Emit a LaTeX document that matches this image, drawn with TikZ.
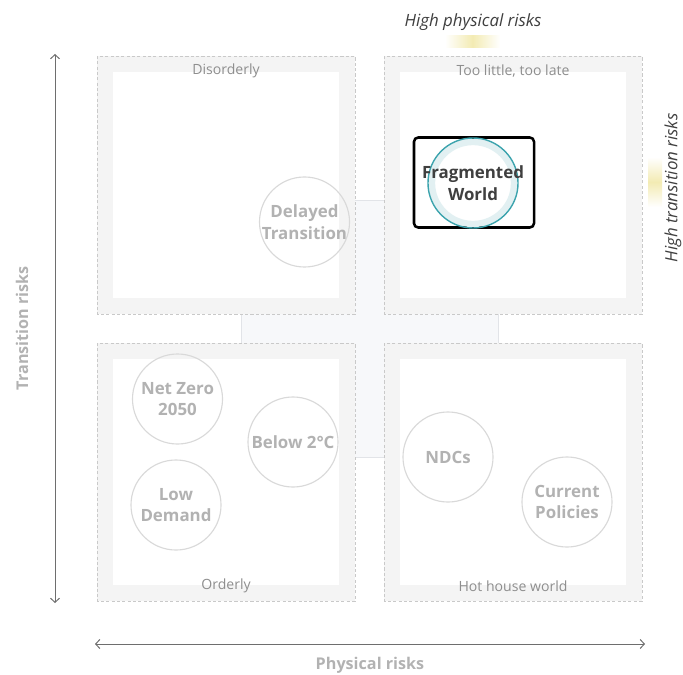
\documentclass[tikz,border=0pt]{standalone}
\usepackage{fontspec}
\setmainfont{Open Sans}
\usetikzlibrary{arrows.meta}

\definecolor{framegray}{HTML}{F4F4F4}
\definecolor{dashgray}{HTML}{C9C9C9}
\definecolor{crossfill}{HTML}{F7F8FA}
\definecolor{crossline}{HTML}{E2E4E8}
\definecolor{circlegray}{HTML}{D9D9D9}
\definecolor{scentext}{HTML}{B2B2B2}
\definecolor{labelgray}{HTML}{8E8E8E}
\definecolor{axisgray}{HTML}{6E6E6E}
\definecolor{axistext}{HTML}{B2B2B2}
\definecolor{darktext}{HTML}{3F3F3F}
\definecolor{tealring}{HTML}{3BA3AD}
\definecolor{ringlight}{HTML}{E2F0F2}
\definecolor{hiyellow}{HTML}{F3EBB3}

\begin{document}
\begin{tikzpicture}[x = 0.025cm, y = -0.025cm,
    scenario/.style = {circle, draw=circlegray, line width=0.8pt, minimum size=2.25cm, inner sep=0pt},
    scenlabel/.style = {align=center, text=scentext, font=\bfseries\fontsize{12}{15.5}\selectfont},
    quadlabel/.style = {text=labelgray, font=\fontsize{10}{12}\selectfont},
    axislabel/.style = {text=axistext, font=\bfseries\fontsize{11.5}{13}\selectfont},
    highlabel/.style = {text=darktext, font=\itshape\fontsize{12}{14}\selectfont},
    axisline/.style = {draw=axisgray, line width=0.7pt, {Straight Barb[length=3pt,width=6.5pt]}-{Straight Barb[length=3pt,width=6.5pt]}}]

    \useasboundingbox (0,0) rectangle (683,675);

    % draw cross in the middle
    \fill[crossfill] (355,200) rectangle (384,457);
    \fill[crossfill] (241,314) rectangle (498,343);
    \draw[crossline, line width=0.6pt] (355,200) -- (384,200);
    \draw[crossline, line width=0.6pt] (355,457) -- (384,457);
    \draw[crossline, line width=0.6pt] (241,314) -- (241,343);
    \draw[crossline, line width=0.6pt] (498,314) -- (498,343);

    % draw quadrants
    \foreach \x/\y in {97/56, 384/56, 97/343, 384/343} {
        \fill[framegray] (\x,\y) rectangle ++(258,258);
        \fill[white] (\x+16,\y+16) rectangle ++(226,226);
        \draw[dashgray, line width=0.6pt, dash pattern=on 2.2pt off 1.6pt] (\x,\y) rectangle ++(258,258);
    }

    % label quadrants
    \node[quadlabel] (disorderly) at (226,71) {Disorderly};
    \node[quadlabel] (toolate) at (513,71) {Too little, too late};
    \node[quadlabel] (orderly) at (226,586) {Orderly};
    \node[quadlabel] (hothouse) at (513,586) {Hot house world};

    % draw scenarios
    \node[scenario, label={[scenlabel]center:Delayed\\Transition}] (delayed) at (304.5,222) {};
    \node[scenario, label={[scenlabel]center:Net Zero\\2050}] (netzero) at (177.5,399) {};
    \node[scenario, label={[scenlabel]center:Below 2°C}] (below) at (293,442) {};
    \node[scenario, label={[scenlabel]center:Low\\Demand}] (lowdemand) at (176,505) {};
    \node[scenario, label={[scenlabel]center:NDCs}] (ndcs) at (448,457) {};
    \node[scenario, label={[scenlabel]center:Current\\Policies}] (current) at (567,502) {};

    % highlight fragmented world
    \node[draw=black, line width=1.8pt, rounded corners=3pt, minimum width=3cm, minimum height=2.25cm] (fragbox) at (474,182.5) {};
    \node[circle, draw=ringlight, line width=4.5pt, minimum size=2.05cm, inner sep=0pt] (fragring) at (473,183) {};
    \node[scenario, draw=tealring, line width=1pt,
        label={[scenlabel, text=darktext]center:Fragmented\\World}] (fragmented) at (473,183) {};

    % draw axes
    \coordinate (trtop) at (55,54);
    \coordinate (trbottom) at (55,603);
    \coordinate (phleft) at (95,644);
    \coordinate (phright) at (645,644);
    \draw[axisline] (trbottom) -- (trtop);
    \draw[axisline] (phleft) -- (phright);
    \node[axislabel] (physical) at (370,665) {Physical risks};
    \node[axislabel, rotate=90] (transition) at (22,328) {Transition risks};

    % high risk labels
    \shade[left color=white, right color=white, middle color=hiyellow] (445,36) rectangle (500,48);
    \shade[top color=white, bottom color=white, middle color=hiyellow] (648,157) rectangle (662,207);
    \node[highlabel] (highphys) at (473,22) {High physical risks};
    \node[highlabel, rotate=90] (hightrans) at (673,188) {High transition risks};

\end{tikzpicture}
\end{document}
